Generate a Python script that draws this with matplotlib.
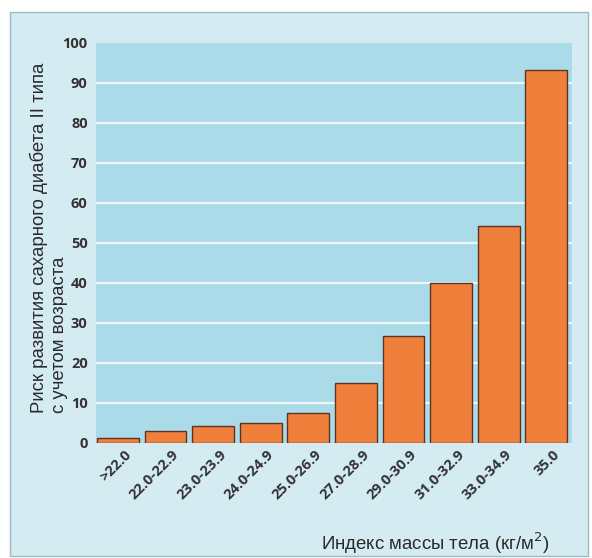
import matplotlib
matplotlib.use("Agg")
import matplotlib.pyplot as plt
from matplotlib.patches import Rectangle
from matplotlib.transforms import ScaledTranslation

# Body-mass-index groups and age-adjusted relative risk of type II diabetes
categories = [">22.0", "22.0-22.9", "23.0-23.9", "24.0-24.9", "25.0-26.9",
              "27.0-28.9", "29.0-30.9", "31.0-32.9", "33.0-34.9", "35.0"]
risk = [1.2, 3.0, 4.3, 5.1, 7.6, 15.0, 26.7, 40.0, 54.2, 93.2]
y_ticks = [0, 10, 20, 30, 40, 50, 60, 70, 80, 90, 100]

ylabel_text = "Риск развития сахарного диабета II типа\nс учетом возраста"
xlabel_text = "Индекс массы тела (кг/м$^2$)"

W, H = 592, 558
fig = plt.figure(figsize=(W / 100, H / 100), dpi=100)
fig.patch.set_facecolor("white")

# light outer panel behind the axes
fig.patches.append(Rectangle((10 / W, 2 / H), 578 / W, 544 / H,
                             transform=fig.transFigure, facecolor="#d5ebf2",
                             edgecolor="#9bbac6", linewidth=1.0, zorder=-5))

ax = fig.add_axes([96 / W, 1 - 443 / H, 476 / W, 400 / H])
ax.set_zorder(2)
ax.set_facecolor("#abdbe8")
for s in ax.spines.values():
    s.set_visible(False)

x = list(range(len(categories)))
ax.bar(x, risk, width=0.88, color="#f07f3c", edgecolor="#5b3322",
       linewidth=1.0, zorder=3)

ax.set_ylim(0, 100)
ax.set_xlim(-0.46, len(categories) - 0.46)
ax.set_yticks(y_ticks)
for v in y_ticks[1:-1]:
    ax.axhline(v, color="#eef8fb", linewidth=1.6, zorder=1)

tick_font = dict(family="Open Sans", fontweight="bold", color="#333333")
ax.tick_params(axis="both", length=0)
ax.tick_params(axis="y", pad=6)
ax.set_yticklabels([str(v) for v in y_ticks], fontsize=10.5, **tick_font)
ax.set_xticks(x)
ax.set_xticklabels(categories, rotation=45, ha="right", va="top",
                   rotation_mode="anchor", fontsize=10.5, **tick_font)
ax.tick_params(axis="x", pad=3)
shift = ScaledTranslation(6 / 100, 0, fig.dpi_scale_trans)
for lbl in ax.get_xticklabels():
    lbl.set_transform(lbl.get_transform() + shift)

fig.text(49 / W, 1 - 238 / H, ylabel_text, rotation=90, ha="center",
         va="center", multialignment="left", fontsize=13.4, color="#2a2a2a",
         family="Liberation Sans", linespacing=1.25)
fig.text(435 / W, 1 - 543 / H, xlabel_text, ha="center", va="center",
         fontsize=13.4, color="#2a2a2a", family="Liberation Sans")

fig.savefig("out.png", dpi=100)
